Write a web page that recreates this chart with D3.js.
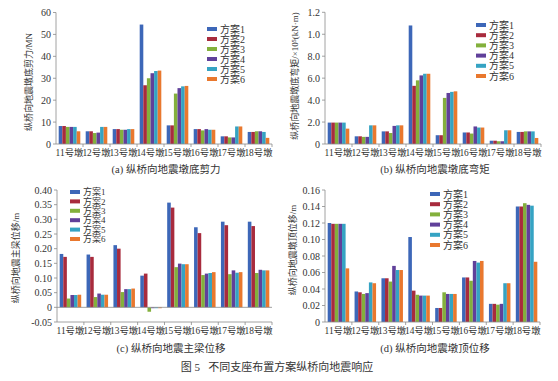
<!DOCTYPE html>
<html><head><meta charset="utf-8">
<script src="https://cdn.jsdelivr.net/npm/d3@7"></script>
<style>
body{margin:0;background:#fff;}
svg{display:block;}
text{font-family:"Liberation Serif","Noto Sans CJK SC",serif;fill:#333;}
</style></head>
<body><svg id="c" width="558" height="381"></svg>
<script>
const piers = ["11号墩","12号墩","13号墩","14号墩","15号墩","16号墩","17号墩","18号墩"];
const schemes = ["方案1","方案2","方案3","方案4","方案5","方案6"];
const colors = ["#3d67b8","#a82b3d","#83b03c","#60409a","#35a3c3","#e9782e"];

// (a) shear, MN  [scheme][pier]
const shearA = [
  [8.2, 5.8, 6.8, 54.5, 8.5, 6.8, 3.5, 5.5],
  [8.2, 5.8, 6.8, 26.8, 8.5, 6.8, 3.5, 5.5],
  [7.8, 5.0, 6.5, 30.0, 23.0, 6.2, 3.0, 5.8],
  [7.8, 5.2, 6.5, 32.3, 25.5, 6.8, 3.0, 5.8],
  [7.8, 7.8, 6.8, 33.3, 26.3, 6.5, 8.0, 5.5],
  [5.8, 7.8, 6.8, 33.5, 26.5, 6.5, 8.0, 2.8]
];
const ticksA = [0,10,20,30,40,50,60];
const tickLabelsA = ["0","10","20","30","40","50","60"];

// (b) moment
const momentB = [
  [1.95, 0.70, 1.15, 10.8, 0.80, 1.05, 0.30, 1.10],
  [1.95, 0.70, 1.15, 5.30, 0.80, 1.05, 0.30, 1.10],
  [1.95, 0.65, 1.00, 5.80, 4.20, 0.95, 0.25, 1.15],
  [1.95, 0.65, 1.65, 6.25, 4.65, 1.60, 0.25, 1.15],
  [1.95, 1.70, 1.70, 6.40, 4.75, 1.50, 1.25, 1.15],
  [1.40, 1.70, 1.70, 6.40, 4.80, 1.50, 1.25, 0.55]
];
const ticksB = [0,2,4,6,8,10,12];
const tickLabelsB = ["0","2.0","4.0","6.0","8.0","1.0","1.2"];

// (c) girder displacement, m
const girderC = [
  [0.182, 0.180, 0.212, 0.108, 0.357, 0.273, 0.292, 0.292],
  [0.172, 0.172, 0.200, 0.115, 0.340, 0.253, 0.280, 0.277],
  [0.030, 0.035, 0.052, -0.015, 0.137, 0.110, 0.113, 0.117],
  [0.042, 0.047, 0.062, -0.003, 0.149, 0.115, 0.126, 0.128],
  [0.042, 0.043, 0.062, -0.003, 0.147, 0.117, 0.118, 0.126],
  [0.043, 0.043, 0.064, -0.003, 0.147, 0.120, 0.120, 0.126]
];
const ticksC = [-0.05,0,0.05,0.10,0.15,0.20,0.25,0.30,0.35,0.40];
const tickLabelsC = ["-0.05","0","0.05","0.10","0.15","0.20","0.25","0.30","0.35","0.40"];

// (d) pier top displacement, m
const pierTopD = [
  [0.120, 0.037, 0.053, 0.103, 0.017, 0.054, 0.022, 0.140],
  [0.119, 0.036, 0.053, 0.038, 0.017, 0.054, 0.022, 0.140],
  [0.119, 0.034, 0.049, 0.033, 0.036, 0.050, 0.021, 0.144],
  [0.119, 0.035, 0.068, 0.032, 0.034, 0.074, 0.022, 0.142],
  [0.119, 0.048, 0.063, 0.032, 0.034, 0.072, 0.047, 0.141],
  [0.065, 0.047, 0.063, 0.032, 0.034, 0.074, 0.047, 0.073]
];
const ticksD = [0,0.02,0.04,0.06,0.08,0.10,0.12,0.14,0.16];
const tickLabelsD = ["0","0.02","0.04","0.06","0.08","0.10","0.12","0.14","0.16"];

const titles = ["纵桥向地震墩底剪力/MN","纵桥向地震墩底弯矩/×10⁵(kN·m)","纵桥向地震主梁位移/m","纵桥向地震墩顶位移/m"];
const subtitles = ["(a) 纵桥向地震墩底剪力","(b) 纵桥向地震墩底弯矩","(c) 纵桥向地震主梁位移","(d) 纵桥向地震墩顶位移"];
const caption = "图 5   不同支座布置方案纵桥向地震响应";

const svg = d3.select("#c");
const axisColor = "#8a8a8a";

const panels = [
  {data:shearA, ticks:ticksA, labels:tickLabelsA, dom:[0,60], L:56, R:272, T:12.5, B:144, title:titles[0], tx:29, ty:82, sub:subtitles[0], sx:166, sy:173, lx:207, ly:29, ls:10, lf:10},
  {data:momentB, ticks:ticksB, labels:tickLabelsB, dom:[0,12], L:325, R:541, T:12.3, B:144, title:titles[1], tx:295, ty:76, sub:subtitles[1], sx:435, sy:173, lx:476, ly:25, ls:10.2, lf:10},
  {data:girderC, ticks:ticksC, labels:tickLabelsC, dom:[-0.05,0.40], L:57, R:272, T:190, B:322, title:titles[2], tx:16, ty:258, sub:subtitles[2], sx:171, sy:352, lx:70, ly:192, ls:9.4, lf:9},
  {data:pierTopD, ticks:ticksD, labels:tickLabelsD, dom:[0,0.16], L:325, R:540, T:190, B:322, title:titles[3], tx:293, ty:250, sub:subtitles[3], sx:435, sy:352, lx:430, ly:194, ls:10.2, lf:10}
];

panels.forEach(p => {
  const g = svg.append("g");
  const y = d3.scaleLinear().domain(p.dom).range([p.B, p.T]);
  const x0 = d3.scaleBand().domain(piers).range([p.L, p.R]).paddingInner(0.2).paddingOuter(0.1);
  const x1 = d3.scaleBand().domain(schemes).range([0, x0.bandwidth()]);
  const xb = d3.scaleBand().domain(piers).range([p.L, p.R]);

  // bars
  piers.forEach((pier, i) => {
    schemes.forEach((s, j) => {
      const v = p.data[j][i];
      const y0 = y(Math.max(0, p.dom[0]));
      const yv = y(v);
      g.append("rect")
        .attr("x", x0(pier) + x1(s))
        .attr("width", x1.bandwidth())
        .attr("y", Math.min(y0, yv))
        .attr("height", Math.abs(y0 - yv))
        .attr("fill", colors[j]);
    });
  });

  // y axis
  g.append("line").attr("x1", p.L).attr("x2", p.L).attr("y1", p.T).attr("y2", p.B).attr("stroke", axisColor).attr("stroke-width", 0.8);
  p.ticks.forEach((t, k) => {
    g.append("line").attr("x1", p.L - 3).attr("x2", p.L).attr("y1", y(t)).attr("y2", y(t)).attr("stroke", axisColor).attr("stroke-width", 0.8);
    g.append("text").attr("x", p.L - 5).attr("y", y(t)).attr("dy", "0.35em").attr("text-anchor", "end").attr("font-size", 10).text(p.labels[k]);
  });
  // zero line if negative domain
  if (p.dom[0] < 0) {
    g.append("line").attr("x1", p.L).attr("x2", p.R).attr("y1", y(0)).attr("y2", y(0)).attr("stroke", axisColor).attr("stroke-width", 0.8);
  }
  // x axis
  g.append("line").attr("x1", p.L).attr("x2", p.R).attr("y1", p.B).attr("y2", p.B).attr("stroke", axisColor).attr("stroke-width", 0.8);
  piers.forEach((pier, i) => {
    const xx = xb(pier) + xb.bandwidth();
    g.append("line").attr("x1", xx).attr("x2", xx).attr("y1", p.B).attr("y2", p.B + 3).attr("stroke", axisColor).attr("stroke-width", 0.8);
    g.append("text").attr("x", xb(pier) + xb.bandwidth() / 2).attr("y", p.B + 12).attr("text-anchor", "middle").attr("font-size", 9.4).text(pier);
  });

  // y title
  g.append("text").attr("transform", `translate(${p.tx},${p.ty}) rotate(-90)`).attr("text-anchor", "middle").attr("dy", "0.35em").attr("font-size", 9).text(p.title);
  // subtitle
  g.append("text").attr("x", p.sx).attr("y", p.sy).attr("text-anchor", "middle").attr("font-size", 10.5).text(p.sub);

  // legend
  schemes.forEach((s, j) => {
    const yy = p.ly + j * p.ls;
    g.append("rect").attr("x", p.lx).attr("y", yy - 2).attr("width", 10).attr("height", 4).attr("fill", colors[j]);
    g.append("text").attr("x", p.lx + 13).attr("y", yy).attr("dy", "0.35em").attr("font-size", p.lf).text(s);
  });
});

svg.append("text").attr("x", 277).attr("y", 371).attr("text-anchor", "middle").attr("font-size", 11).attr("xml:space", "preserve").style("white-space", "pre").text(caption);
</script></body></html>
